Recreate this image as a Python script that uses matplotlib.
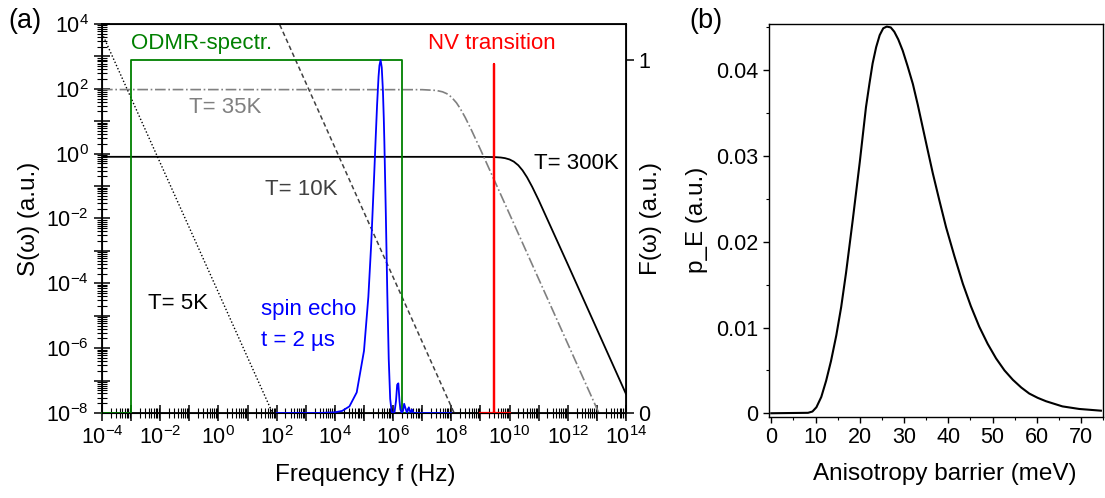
import numpy as np
import matplotlib
matplotlib.use('Agg')
import matplotlib.pyplot as plt
from matplotlib.ticker import LogLocator, FuncFormatter, NullFormatter, MultipleLocator

plt.rcParams['font.family'] = ['Liberation Sans', 'DejaVu Sans']
plt.rcParams['mathtext.fontset'] = 'custom'
plt.rcParams['mathtext.rm'] = 'Liberation Sans'
plt.rcParams['mathtext.it'] = 'Liberation Sans:italic'
plt.rcParams['mathtext.default'] = 'regular'

# ---- panel (a): noise spectra S(w), left axis ----
f_300K = [1e-4, 1e9, 3e9, 5e9, 7e9, 1e10, 1.4e10, 2e10, 2.8e10, 4e10, 6e10, 1e11, 1e12, 1e13, 1e14]
S_300K = [0.8, 0.798, 0.785, 0.761, 0.727, 0.663, 0.569, 0.438, 0.305, 0.186, 0.0948, 0.0369, 3.87e-4, 3.87e-6, 3.87e-8]

f_35K = [1e-4, 1e7, 3e7, 5e7, 7e7, 1e8, 1.5e8, 2e8, 3e8, 5e8, 1e9, 1e10, 1e11, 1e12, 1e13, 3e13]
S_35K = [95, 94.3, 89.4, 80.9, 70.9, 56.1, 37.1, 25.1, 13.1, 5.17, 1.35, 1.368e-2, 1.368e-4, 1.368e-6, 1.368e-8, 1.52e-9]

f_10K = [1e2, 1.6e8]
S_10K = [1.55e4, 6.1e-9]

f_5K = [1e-4, 1e2]
S_5K = [5.2e3, 5.2e-9]

# ---- filter functions F(w), right axis ----
f_odmr = [1e-4, 1e-3, 1e-3, 2e6, 2e6, 1e8]
F_odmr = [0, 0, 1, 1, 0, 0]

f_nv = [1e9, 2.87e9, 2.87e9, 2.87e9, 1e10]
F_nv = [0, 0, 0.99, 0, 0]

logf_echo = [2.0, 3.0, 3.5, 4.0, 4.25, 4.5, 4.75, 5.0, 5.15, 5.25, 5.35, 5.4, 5.45, 5.5, 5.53, 5.57,
             5.61, 5.65, 5.68, 5.7, 5.75, 5.8, 5.85, 5.9, 5.95, 6.0, 6.05, 6.1, 6.14, 6.18, 6.22, 6.25,
             6.3, 6.34, 6.38, 6.42, 6.477, 6.54, 6.6, 6.65, 6.7, 7.0, 8.0]
F_echo = [0, 0.00002, 0.0002, 0.0019, 0.0059, 0.0187, 0.0583, 0.176, 0.329, 0.482, 0.674, 0.776, 0.873, 0.953, 0.984, 1.0,
          0.979, 0.914, 0.835, 0.768, 0.565, 0.342, 0.153, 0.040, 0.003, 0, 0.003, 0.034, 0.080, 0.084, 0.034, 0.010,
          0, 0.006, 0.026, 0.015, 0, 0.016, 0, 0.0096, 0, 0, 0]

# ---- panel (b): barrier distribution ----
E_barrier = [0, 8.3, 9.3, 10.2, 11.3, 12.4, 13.5, 14.7, 15.8, 16.9, 18.4, 20.0, 21.4, 22.2, 22.9, 23.7,
             24.5, 25.3, 26.1, 27.0, 27.8, 28.7, 29.7, 30.8, 32.0, 33.1, 34.2, 35.3, 36.5, 38.0, 39.5,
             41.4, 43.3, 45.1, 47.0, 48.9, 50.8, 52.7, 54.6, 56.5, 58.3, 60.2, 62.1, 65.8, 69.6, 74.5]
p_E = [0, 0.00005, 0.0002, 0.0007, 0.0019, 0.0038, 0.0061, 0.0091, 0.0124, 0.0164, 0.0225, 0.0293,
       0.0357, 0.0385, 0.0408, 0.0427, 0.0441, 0.0449, 0.0451, 0.0450, 0.0445, 0.0436, 0.0423, 0.0405,
       0.0384, 0.0360, 0.0334, 0.0308, 0.028, 0.0248, 0.0217, 0.0183, 0.0151, 0.0125, 0.0101, 0.0081,
       0.0064, 0.0050, 0.0039, 0.0030, 0.0023, 0.0018, 0.0014, 0.0008, 0.0005, 0.0003]

fig = plt.figure(figsize=(11.05, 4.98), dpi=100)

ax = fig.add_axes([0.0923, 0.1707, 0.4742, 0.7811])
ax.set_xscale('log')
ax.set_yscale('log')
ax.plot(f_300K, S_300K, color='black', lw=1.3)
ax.plot(f_35K, S_35K, color='#808080', lw=1.2, ls='-.')
ax.plot(f_10K, S_10K, color='#404040', lw=1.1, ls=(0, (3, 2)))
ax.plot(f_5K, S_5K, color='black', lw=1.0, ls=(0, (1, 1.5)))
ax.set_xlim(1e-4, 1e14)
ax.set_ylim(1e-8, 1e4)


def dec_fmt(v, pos):
    e = int(round(np.log10(v)))
    return r'$10^{%d}$' % e if e % 2 == 0 else ''


for axis in (ax.xaxis, ax.yaxis):
    axis.set_major_locator(LogLocator(base=10, subs=(1.0,), numticks=100))
    axis.set_minor_locator(LogLocator(base=10, subs=np.arange(2, 10), numticks=100))
    axis.set_major_formatter(FuncFormatter(dec_fmt))
    axis.set_minor_formatter(NullFormatter())
ax.tick_params(which='major', direction='inout', length=12, width=1.1, labelsize=15.5,
               top=False, right=False)
ax.tick_params(which='minor', direction='inout', length=6.5, width=0.8, top=False, right=False)
for s in ax.spines.values():
    s.set_linewidth(1.3)
ax.set_xlabel('Frequency f (Hz)', fontsize=17.5)
ax.set_ylabel('S(ω) (a.u.)', fontsize=17.5)
ax.xaxis.set_label_coords(0.502, -0.132)
ax.yaxis.set_label_coords(-0.118, 0.5)

ax2 = ax.twinx()
ax2.plot(f_odmr, F_odmr, color='#008000', lw=1.3, clip_on=False)
ax2.plot([10 ** v for v in logf_echo], F_echo, color='blue', lw=1.3, clip_on=False)
ax2.plot(f_nv, F_nv, color='red', lw=1.6, clip_on=False)
ax2.set_ylim(0, 1.102)
ax2.set_yticks([0, 1])
ax2.set_yticklabels(['0', '1'])
ax2.tick_params(axis='y', direction='out', length=5.5, width=1.1, labelsize=15.5)
ax2.set_ylabel('F(ω) (a.u.)', fontsize=17.5)
ax2.yaxis.set_label_coords(1.027, 0.5)

# annotations
ax.text(1e-3, 10 ** 3.41, 'ODMR-spectr.', color='#008000', fontsize=16, va='center', ha='left')
ax.text(2.45e9, 10 ** 3.41, 'NV transition', color='red', fontsize=16, va='center', ha='center')
ax.text(10 ** -1.0, 10 ** 1.41, 'T= 35K', color='#808080', fontsize=16, va='center')
ax.text(10 ** 1.61, 10 ** -1.12, 'T= 10K', color='#404040', fontsize=16, va='center')
ax.text(10 ** 10.83, 10 ** -0.29, 'T= 300K', color='black', fontsize=16, va='center')
ax.text(10 ** -2.42, 10 ** -4.61, 'T= 5K', color='black', fontsize=16, va='center')
ax.text(10 ** 1.47, 10 ** -4.8, 'spin echo', color='blue', fontsize=16, va='center')
ax.text(10 ** 1.47, 10 ** -5.75, 't = 2 µs', color='blue', fontsize=16, va='center')

fig.text(0.008, 0.957, '(a)', fontsize=19.5, va='center')
fig.text(0.624, 0.957, '(b)', fontsize=19.5, va='center')

# ---- panel (b) ----
axb = fig.add_axes([0.696, 0.1633, 0.3023, 0.7885])
axb.plot(E_barrier, p_E, color='black', lw=1.5)
axb.set_xlim(-0.5, 75)
axb.set_ylim(-0.0004, 0.0454)
axb.xaxis.set_major_locator(MultipleLocator(10))
axb.xaxis.set_minor_locator(MultipleLocator(5))
axb.yaxis.set_major_locator(MultipleLocator(0.01))
axb.yaxis.set_minor_locator(MultipleLocator(0.005))
axb.yaxis.set_major_formatter(FuncFormatter(lambda v, p: '0' if abs(v) < 1e-9 else '%.2f' % v))
axb.tick_params(which='major', direction='out', length=4, width=1, labelsize=15.5)
axb.tick_params(which='minor', direction='out', length=2.5, width=0.8)
for s in axb.spines.values():
    s.set_linewidth(1.0)
axb.set_xlabel('Anisotropy barrier (meV)', fontsize=17.5)
axb.set_ylabel('p_E (a.u.)', fontsize=17.5)
axb.xaxis.set_label_coords(0.527, -0.118)
axb.yaxis.set_label_coords(-0.183, 0.5)

fig.savefig('out.png', dpi=100)
